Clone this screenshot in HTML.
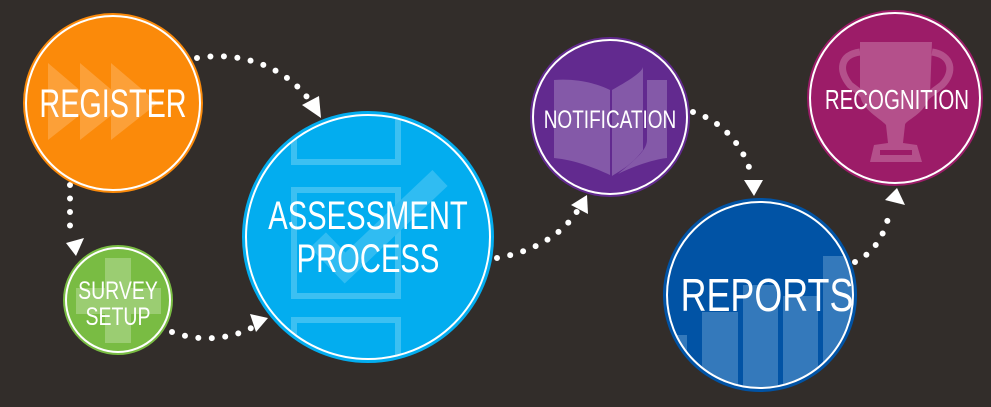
<!DOCTYPE html>
<html><head><style>
html,body{margin:0;padding:0;background:#322d2a;}
svg{display:block}
text{font-family:"Liberation Sans Narrow","Liberation Sans",sans-serif;fill:#fff;text-anchor:middle}
</style></head><body>
<svg width="991" height="407" viewBox="0 0 991 407" xmlns="http://www.w3.org/2000/svg">
<rect width="991" height="407" fill="#322d2a"/>
<defs>
<clipPath id="cA"><circle cx="368" cy="237" r="122"/></clipPath>
<clipPath id="cR"><circle cx="760" cy="295" r="93"/></clipPath>
<clipPath id="cG"><circle cx="113" cy="103" r="87"/></clipPath>
<clipPath id="cS"><circle cx="118" cy="300" r="52"/></clipPath>
</defs>
<g fill="none" stroke="#fff" stroke-width="6" stroke-linecap="round" stroke-dasharray="0 13.5">
<path d="M197,58 C245,50 290,70 312,104"/>
<path d="M70,185 L70,238"/>
<path d="M172,332 C200,342 230,340 255,326"/>
<path d="M497,258 C530,252 560,238 578,210"/>
<path d="M693,112 C720,120 745,145 752,178"/>
<path d="M855,262 C875,252 885,235 890,210"/>
</g>
<g fill="#fff">
<path d="M302,105 L321,118 L319,96 Z"/>
<path d="M66,243 L76,256 L84,238 Z"/>
<path d="M250,314 L268,318 L256,332 Z"/>
<path d="M571,205 L587,195 L588,214 Z"/>
<path d="M744,180 L754,196 L763,180 Z"/>
<path d="M885,200 L897,188 L905,205 Z"/>
</g>
<!-- Register -->
<circle cx="113" cy="103" r="90" fill="#fb8a0a"/>
<g clip-path="url(#cG)" fill="#fda544" opacity="0.8">
<path d="M48,63 L95,103 L48,140 Z"/><path d="M80,63 L127,103 L80,140 Z"/><path d="M111,63 L158,103 L111,140 Z"/>
</g>
<circle cx="113" cy="103" r="87" fill="none" stroke="#fff" stroke-width="2"/>
<text x="113" y="117" font-size="40" transform="translate(113 0) scale(0.72 1) translate(-113 0)">REGISTER</text>
<!-- Survey -->
<circle cx="118" cy="300" r="55" fill="#79bc43"/>
<g clip-path="url(#cS)" fill="#9bcd72"><rect x="105" y="258" width="26" height="85"/><rect x="76" y="288" width="85" height="26"/></g>
<circle cx="118" cy="300" r="52" fill="none" stroke="#fff" stroke-width="2"/>
<text x="118" y="299" font-size="25" transform="translate(118 0) scale(0.78 1) translate(-118 0)">SURVEY</text>
<text x="118" y="325" font-size="25" transform="translate(118 0) scale(0.78 1) translate(-118 0)">SETUP</text>
<!-- Assessment -->
<circle cx="368" cy="237" r="126" fill="#03adef"/>
<g clip-path="url(#cA)" fill="none" stroke="#3cc0f2" stroke-width="6">
<rect x="294" y="100" width="104" height="62"/><rect x="294" y="190" width="104" height="106"/><rect x="294" y="320" width="104" height="62"/>
<path d="M318,240 L345,268 L440,178" stroke-width="22" stroke="#30bcf2"/>
</g>
<circle cx="368" cy="237" r="122" fill="none" stroke="#fff" stroke-width="2"/>
<text x="368" y="229" font-size="40" transform="translate(368 0) scale(0.73 1) translate(-368 0)">ASSESSMENT</text>
<text x="368" y="272" font-size="40" transform="translate(368 0) scale(0.73 1) translate(-368 0)">PROCESS</text>
<!-- Notification -->
<circle cx="610" cy="117" r="80" fill="#622a8f"/>
<g fill="#8459a8"><path d="M554,80 C580,78 600,85 610,90 L610,175 C595,168 575,160 554,158 Z"/><path d="M612,90 C630,80 642,72 643,67 L643,150 C632,165 618,172 612,176 Z"/><path d="M647,80 L667,80 L667,158 C650,160 630,168 618,174 C635,160 647,150 647,140 Z"/></g>
<circle cx="610" cy="117" r="77" fill="none" stroke="#fff" stroke-width="2"/>
<text x="610" y="128" font-size="25" transform="translate(610 0) scale(0.76 1) translate(-610 0)">NOTIFICATION</text>
<!-- Reports -->
<circle cx="760" cy="295" r="97" fill="#0153a5"/>
<g clip-path="url(#cR)" fill="#3479bb">
<rect x="660" y="335" width="27" height="70"/><rect x="702" y="312" width="36" height="90"/><rect x="743" y="285" width="35" height="120"/><rect x="783" y="296" width="35" height="110"/><rect x="823" y="256" width="35" height="150"/>
</g>
<circle cx="760" cy="295" r="93" fill="none" stroke="#fff" stroke-width="2"/>
<text x="767" y="311" font-size="46" transform="translate(767 0) scale(0.78 1) translate(-767 0)">REPORTS</text>
<!-- Recognition -->
<circle cx="895" cy="98" r="88" fill="#9c1c68"/>
<g fill="#b4508b"><path d="M860,42 L932,42 L930,95 C925,115 905,120 905,125 L903,143 L917,145 L922,162 L870,162 L874,145 L888,143 L886,125 C880,118 862,110 860,95 Z"/>
<path d="M860,52 C840,55 838,70 850,85 L870,100" fill="none" stroke="#b4508b" stroke-width="7"/>
<path d="M932,52 C952,55 955,72 942,85 L922,100" fill="none" stroke="#b4508b" stroke-width="7"/></g>
<rect x="880" y="150" width="32" height="5" fill="#9c1c68"/>
<circle cx="895" cy="98" r="85" fill="none" stroke="#fff" stroke-width="2"/>
<text x="897" y="109" font-size="28" transform="translate(897 0) scale(0.73 1) translate(-897 0)">RECOGNITION</text>
</svg>
</body></html>
